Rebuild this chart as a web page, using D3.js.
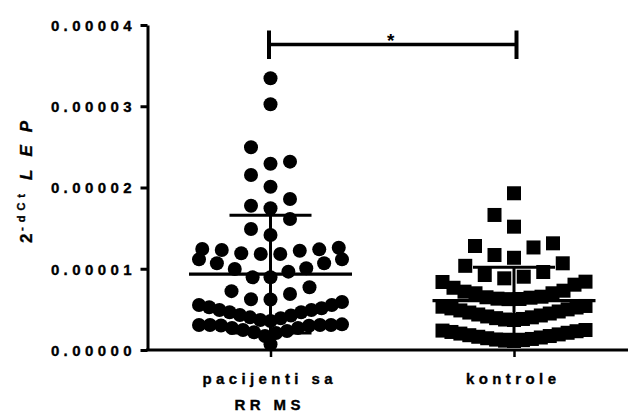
<!DOCTYPE html>
<html><head><meta charset="utf-8">
<script src="https://cdn.jsdelivr.net/npm/d3@7"></script>
<style>
html,body{margin:0;padding:0;background:#fff;}
svg{display:block;font-family:"Liberation Sans",Arial,sans-serif;}
</style></head><body>
<svg id="chart" width="628" height="412"></svg>
<script>
// Groups and their axis labels (one entry per label line)
const groups = ["pacijenti", "kontrole"];
const groupLabels = [["pacijenti sa", "RR MS"], ["kontrole"]];

// 2^-dCt LEP values, patients with RR MS
const patients = [
  3.344e-5, 3.024e-5, 2.495e-5, 2.318e-5, 2.293e-5, 2.154e-5, 2.010e-5, 1.858e-5,
  1.776e-5, 1.744e-5, 1.612e-5, 1.489e-5, 1.415e-5,
  1.243e-5, 1.231e-5, 1.182e-5, 1.182e-5, 1.190e-5, 1.222e-5, 1.239e-5, 1.259e-5,
  1.116e-5, 1.067e-5, 0.997e-5, 0.895e-5, 0.895e-5, 0.964e-5, 1.006e-5, 1.067e-5, 1.116e-5,
  0.772e-5, 0.689e-5, 0.622e-5, 0.624e-5, 0.724e-5,
  0.554e-5, 0.513e-5, 0.492e-5, 0.464e-5, 0.431e-5, 0.402e-5, 0.369e-5, 0.357e-5,
  0.390e-5, 0.425e-5, 0.464e-5, 0.492e-5, 0.526e-5, 0.554e-5, 0.590e-5,
  0.308e-5, 0.308e-5, 0.299e-5, 0.271e-5, 0.246e-5, 0.218e-5, 0.209e-5, 0.234e-5,
  0.271e-5, 0.302e-5, 0.308e-5, 0.308e-5, 0.316e-5,
  0.172e-5, 0.070e-5
];

// 2^-dCt LEP values, controls
const controls = [
  1.929e-5, 1.662e-5, 1.518e-5,
  1.313e-5, 1.280e-5, 1.262e-5, 1.169e-5, 1.135e-5,
  1.067e-5, 1.036e-5, 0.960e-5, 0.923e-5, 0.902e-5, 0.882e-5, 0.841e-5, 0.837e-5,
  0.804e-5, 0.766e-5, 0.730e-5, 0.718e-5, 0.698e-5, 0.698e-5, 0.656e-5, 0.649e-5,
  0.644e-5, 0.632e-5, 0.628e-5, 0.626e-5,
  0.542e-5, 0.533e-5, 0.523e-5, 0.512e-5, 0.500e-5, 0.487e-5, 0.474e-5, 0.461e-5,
  0.449e-5, 0.437e-5, 0.425e-5, 0.413e-5, 0.402e-5, 0.392e-5, 0.382e-5, 0.375e-5, 0.369e-5,
  0.246e-5, 0.239e-5, 0.231e-5, 0.222e-5, 0.212e-5, 0.202e-5, 0.192e-5, 0.182e-5,
  0.172e-5, 0.163e-5, 0.154e-5, 0.145e-5, 0.136e-5, 0.128e-5, 0.121e-5, 0.115e-5, 0.111e-5
];

const yTicks = [0, 1e-5, 2e-5, 3e-5, 4e-5];
const yTickLabels = ["0.00000", "0.00001", "0.00002", "0.00003", "0.00004"];
const significance = {label: "*", level: 3.76e-5};

const svg = d3.select("#chart");

const y = d3.scaleLinear().domain([0, 4e-5]).range([350, 25]);
const x = d3.scalePoint().domain(groups).range([148.75, 635.75]).padding(0.5);

const FS = 15;   // label font size
const LS = 4.4;  // letter spacing used by every label
const FONT = "Liberation Sans, Arial, sans-serif";
const HEAVY = 0.35; // extra stroke that thickens the bold labels

// y axis
const yAxis = svg.append("g")
  .attr("transform", "translate(147.5,0)")
  .call(d3.axisLeft(y).tickValues(yTicks).tickFormat((d, i) => yTickLabels[i])
        .tickSize(7).tickSizeOuter(0).tickPadding(9));
yAxis.select(".domain").attr("stroke", "#000").attr("stroke-width", 3);
yAxis.selectAll(".tick line").attr("stroke", "#000").attr("stroke-width", 3);
yAxis.selectAll(".tick text")
  .attr("fill", "#000").attr("font-size", FS).attr("font-weight", "bold")
  .attr("font-family", FONT).attr("stroke", "#000").attr("stroke-width", HEAVY)
  .attr("letter-spacing", LS).attr("dx", LS).attr("dy", "0.35em");

// x axis
const xAxis = svg.append("g")
  .attr("transform", "translate(0,350)")
  .call(d3.axisBottom(x).tickSize(7).tickSizeOuter(0).tickFormat(""));
xAxis.select(".domain").attr("stroke", "#000").attr("stroke-width", 3)
  .attr("d", "M146,0H640");
xAxis.selectAll(".tick line").attr("stroke", "#000").attr("stroke-width", 2.5);

// multi-line group labels
groups.forEach((g, gi) => {
  const t = svg.append("text")
    .attr("text-anchor", "middle").attr("font-size", FS).attr("font-weight", "bold")
    .attr("font-family", FONT).attr("letter-spacing", LS).attr("fill", "#000")
    .attr("stroke", "#000").attr("stroke-width", HEAVY);
  groupLabels[gi].forEach((line, li) => {
    t.append("tspan").attr("x", x(g) + LS / 2 - 3).attr("y", 384 + li * 25.5).text(line);
  });
});

// y axis title
const yt = svg.append("text")
  .attr("transform", "translate(32,243) rotate(-90)")
  .attr("font-family", FONT).attr("font-weight", "bold").attr("fill", "#000")
  .attr("stroke", "#000").attr("stroke-width", HEAVY);
yt.append("tspan").attr("x", 0).attr("font-size", 17).text("2");
yt.append("tspan").attr("x", 12).attr("dy", -7).attr("font-size", 11)
  .attr("letter-spacing", 5).text("-dCt");
yt.append("tspan").attr("x", 63).attr("dy", 7).attr("font-size", 17)
  .attr("font-style", "italic").attr("letter-spacing", 13).text("LEP");

// Scatter layout. Points are binned by height; crowded bins are spread
// symmetrically (lowest values in the middle) and squeezed to a maximum width,
// sparse bins are placed one by one on a half-spacing grid, nearest the centre
// that keeps a full spacing from every point already drawn.
function swarm(values, cx) {
  const binPx = 21, firstEdge = 28, maxSpan = 143, gap = 19.5, half = gap / 2;
  const base = y(0);
  const bins = Array.from(
    d3.group(values.map(v => ({v, py: y(v)})),
             d => Math.floor((base - d.py - firstEdge) / binPx)),
    ([k, arr]) => ({k, arr: arr.sort((a, b) => a.v - b.v)}))
    .sort((a, b) => a.k - b.k);
  const out = [];
  for (const {arr} of bins) {
    const n = arr.length;
    if (n <= 3) {
      arr.forEach(d => {
        for (let j = 0; j < 40; j++) {
          const slot = j === 0 ? 0 : (j % 2 ? -Math.ceil(j / 2) : Math.ceil(j / 2));
          const px = cx + slot * half;
          if (out.every(o => Math.hypot(o.x - px, o.y - d.py) >= gap - 0.01)) {
            out.push({v: d.v, x: px, y: d.py});
            break;
          }
        }
      });
    } else {
      const step = Math.min(gap, maxSpan / (n - 1));
      arr.forEach((d, i) => {
        let slot;
        if (n % 2) slot = i === 0 ? 0 : (i % 2 ? -Math.ceil(i / 2) : Math.ceil(i / 2));
        else { const k = Math.floor(i / 2) + 0.5; slot = i % 2 ? k : -k; }
        out.push({v: d.v, x: cx + slot * step, y: d.py});
      });
    }
  }
  return out;
}

const R = 7;
svg.append("g").selectAll("circle")
  .data(swarm(patients, x(groups[0])))
  .join("circle").attr("cx", d => d.x).attr("cy", d => d.y).attr("r", R).attr("fill", "#000");

svg.append("g").selectAll("rect")
  .data(swarm(controls, x(groups[1])))
  .join("rect").attr("x", d => d.x - R).attr("y", d => d.y - R)
  .attr("width", 2 * R).attr("height", 2 * R).attr("fill", "#000");

// mean and SD bars
[patients, controls].forEach((vals, gi) => {
  const cx = x(groups[gi]);
  const m = d3.mean(vals), sd = d3.deviation(vals);
  const g = svg.append("g").attr("stroke", "#000");
  g.append("line").attr("x1", cx - 81.5).attr("x2", cx + 81.5)
    .attr("y1", y(m)).attr("y2", y(m)).attr("stroke-width", 3.2);
  g.append("line").attr("x1", cx).attr("x2", cx)
    .attr("y1", y(m + sd)).attr("y2", y(m - sd)).attr("stroke-width", 3);
  [m + sd, m - sd].forEach(v => {
    g.append("line").attr("x1", cx - 41).attr("x2", cx + 41)
      .attr("y1", y(v)).attr("y2", y(v)).attr("stroke-width", 3);
  });
});

// significance bracket
const sx1 = x(groups[0]) - 1.5, sx2 = x(groups[1]) + 2.5, sy = y(significance.level);
const br = svg.append("g").attr("stroke", "#000");
br.append("line").attr("x1", sx1).attr("x2", sx2).attr("y1", sy).attr("y2", sy).attr("stroke-width", 3.5);
[sx1, sx2].forEach(sx => br.append("line").attr("x1", sx).attr("x2", sx)
  .attr("y1", sy - 14).attr("y2", sy + 14.5).attr("stroke-width", 4));
svg.append("text").attr("x", (sx1 + sx2) / 2 - 2).attr("y", sy + 2)
  .attr("text-anchor", "middle").attr("font-size", 19).attr("font-weight", "bold")
  .attr("font-family", FONT).text(significance.label);
</script>
</body></html>
